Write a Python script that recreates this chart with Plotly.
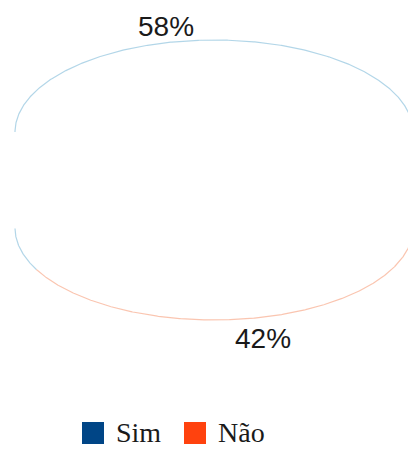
import numpy as np
import plotly.graph_objects as go

categories = ["Sim", "Não"]
values = [58, 42]
colors = ["#004586", "#ff420e"]
edge_colors = ["rgba(0,120,180,0.30)", "rgba(240,90,30,0.35)"]

W, H = 408, 451
cx, a = 214, 199
y_top_eq, y_bot_eq = 132, 228
b = 92
start_angle = -2.0

def outline(theta_deg):
    t = np.radians(theta_deg)
    x = cx + a * np.cos(t)
    s = np.sin(t)
    y = np.where(s >= 0, y_top_eq - b * s, y_bot_eq - b * s)
    return x, y

def broken(th):
    # break the line where it jumps between the top and bottom rims (hidden side walls)
    x, y = outline(th)
    s = np.sin(np.radians(th)) >= 0
    xs, ys = [x[0]], [y[0]]
    for i in range(1, len(th)):
        if s[i] != s[i - 1]:
            xs.append(None)
            ys.append(None)
        xs.append(x[i])
        ys.append(y[i])
    return xs, ys

fig = go.Figure()
total = sum(values)
ang = start_angle
for cat, v, ec in zip(categories, values, edge_colors):
    span = 360.0 * v / total
    th = np.linspace(ang, ang + span, 600)
    x, y = broken(th)
    fig.add_trace(go.Scatter(x=x, y=y, mode="lines", line=dict(color=ec, width=1.2),
                             hoverinfo="skip", showlegend=False, connectgaps=False))
    mid = ang + span / 2
    mx, my = outline(np.array([mid]))
    up = np.sin(np.radians(mid)) >= 0
    fig.add_annotation(x=float(mx[0]) - 5 if up else float(mx[0]) + 6,
                       y=float(my[0]) - 16 if up else float(my[0]) + 21,
                       text=f"{v}%", showarrow=False,
                       font=dict(family="Liberation Sans, Arial", size=28, color="#1a1a1a"),
                       xanchor="center", yanchor="middle")
    ang += span

# legend
leg_x = [82, 184]
for cat, col, lx in zip(categories, colors, leg_x):
    fig.add_shape(type="rect", xref="x", yref="y", x0=lx, x1=lx + 22, y0=422, y1=444,
                  fillcolor=col, line=dict(width=0))
    fig.add_annotation(x=lx + 32, y=432, text=cat, showarrow=False, xanchor="left", yanchor="middle",
                       font=dict(family="Liberation Serif, Times New Roman", size=28, color="#1a1a1a"))

fig.update_layout(width=W, height=H, margin=dict(l=0, r=0, t=0, b=0),
                  paper_bgcolor="white", plot_bgcolor="white", showlegend=False,
                  xaxis=dict(range=[0, W], visible=False, fixedrange=True),
                  yaxis=dict(range=[H, 0], visible=False, fixedrange=True))
fig.write_html("out.html")
